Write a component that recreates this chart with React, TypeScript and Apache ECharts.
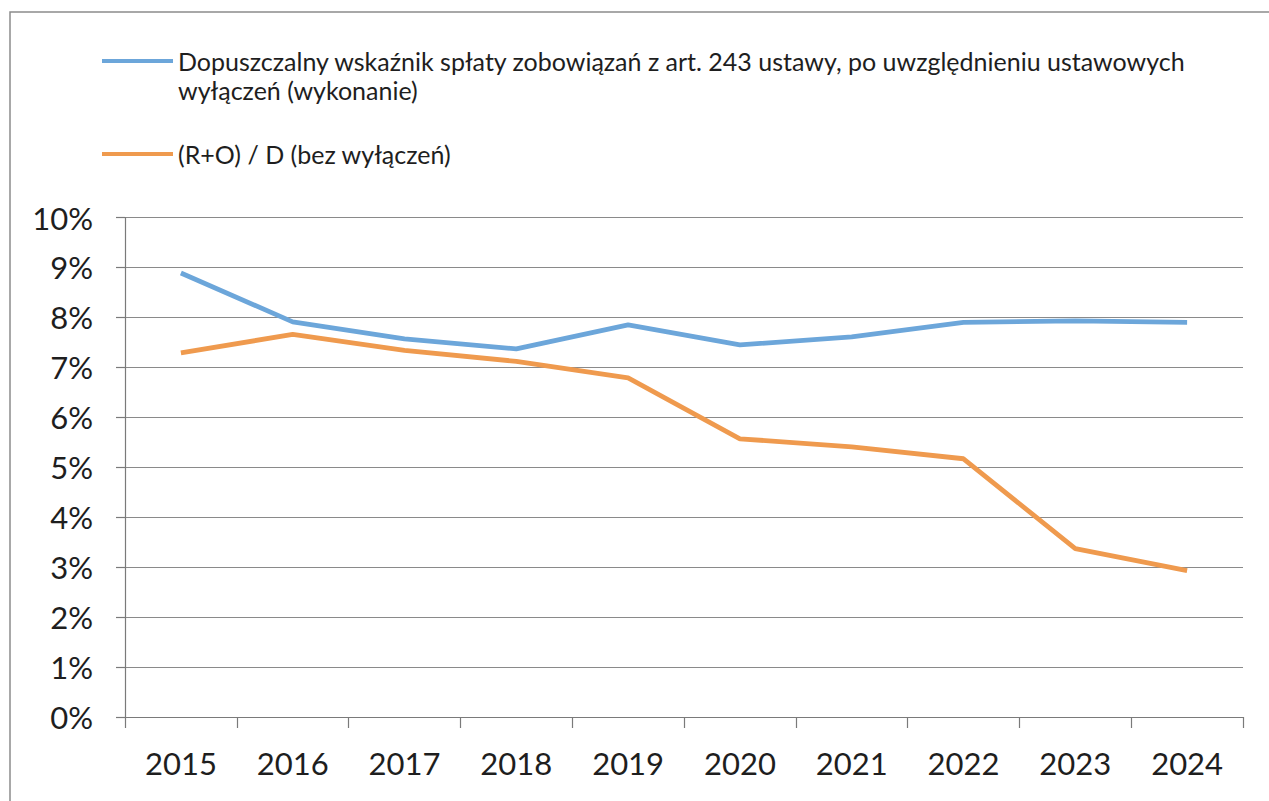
import React, { useEffect, useRef } from "react";
import * as echarts from "echarts";

const years = ["2015", "2016", "2017", "2018", "2019", "2020", "2021", "2022", "2023", "2024"];
const seriesNames = [
  "Dopuszczalny wskaźnik spłaty zobowiązań z art. 243 ustawy, po uwzględnieniu ustawowych\nwyłączeń (wykonanie)",
  "(R+O) / D (bez wyłączeń)",
];
const allowedRatio = [8.89, 7.91, 7.57, 7.37, 7.85, 7.45, 7.61, 7.9, 7.93, 7.9];
const actualRatio = [7.29, 7.66, 7.34, 7.12, 6.79, 5.57, 5.41, 5.17, 3.37, 2.93];
const colors = ["#6ca6da", "#ef9a4e"];

const FONT = "Lato";

export default function App() {
  const ref = useRef<HTMLDivElement>(null);
  useEffect(() => {
    if (!ref.current) return;
    const chart = echarts.init(ref.current, null, { renderer: "svg" });
    const legendText = {
      fontFamily: FONT,
      fontSize: 25,
      lineHeight: 29,
      color: "#1e1e1e",
    };
    const legendCommon = {
      orient: "vertical",
      left: 102,
      padding: 0,
      icon: "rect",
      itemWidth: 71,
      itemHeight: 4,
      selectedMode: false,
      textStyle: legendText,
    };
    chart.setOption({
      animation: false,
      backgroundColor: "#ffffff",
      color: colors,
      textStyle: { fontFamily: FONT },
      graphic: [
        {
          type: "rect",
          silent: true,
          shape: { x: 10, y: 12, width: 1300, height: 900 },
          style: { fill: "none", stroke: "#8c8c8c", lineWidth: 1.5 },
        },
      ],
      legend: [
        {
          ...legendCommon,
          top: 17.5,
          data: [seriesNames[0]],
          formatter: (name: string) => "\n" + name,
        },
        {
          ...legendCommon,
          top: 139.5,
          data: [seriesNames[1]],
        },
      ],
      grid: {
        left: 125,
        right: 26,
        top: 217.5,
        bottom: 84,
        outerBoundsMode: "none",
        containLabel: false,
      },
      xAxis: {
        type: "category",
        data: years,
        boundaryGap: true,
        axisLine: { show: true, lineStyle: { color: "#7a7a7a", width: 1.2 } },
        axisTick: { show: true, length: 11, alignWithLabel: false, lineStyle: { color: "#7a7a7a", width: 1.2 } },
        axisLabel: { fontFamily: FONT, fontSize: 31, color: "#1e1e1e", margin: 30 },
        splitLine: { show: false },
      },
      yAxis: {
        type: "value",
        min: 0,
        max: 10,
        interval: 1,
        axisLine: { show: true, lineStyle: { color: "#7a7a7a", width: 1.2 } },
        axisTick: { show: true, length: 9, lineStyle: { color: "#7a7a7a", width: 1.2 } },
        axisLabel: {
          fontFamily: FONT,
          fontSize: 31,
          color: "#1e1e1e",
          margin: 32,
          formatter: "{value}%",
        },
        splitLine: { show: true, lineStyle: { color: "#8a8a8a", width: 1.2 } },
      },
      series: [
        {
          name: seriesNames[0],
          type: "line",
          data: allowedRatio,
          symbol: "none",
          lineStyle: { width: 4.8, color: colors[0] },
          itemStyle: { color: colors[0] },
        },
        {
          name: seriesNames[1],
          type: "line",
          data: actualRatio,
          symbol: "none",
          lineStyle: { width: 4.8, color: colors[1] },
          itemStyle: { color: colors[1] },
        },
      ],
    });
    return () => chart.dispose();
  }, []);
  return (
    <div
      ref={ref}
      style={{ position: "fixed", left: 0, top: 0, width: 1269, height: 801 }}
    />
  );
}
